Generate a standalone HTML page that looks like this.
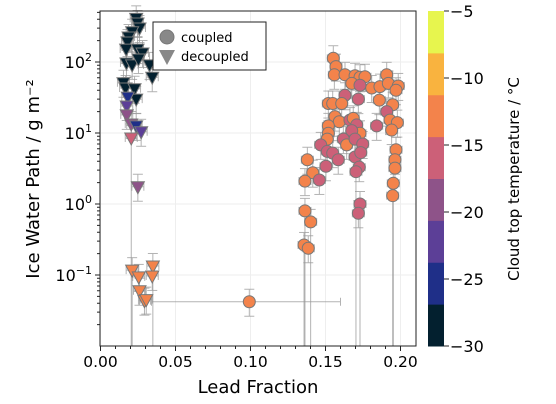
<!DOCTYPE html>
<html><head><meta charset="utf-8"><style>
body{margin:0;background:#fff}
svg{display:block;font-family:"DejaVu Sans","Liberation Sans",sans-serif}
</style></head><body>
<svg id="chart" width="556" height="404" viewBox="0 0 556 404">
<g id="grid"></g>
<g id="errs"></g>
<g id="marks"></g>
<rect x="100" y="11" width="316" height="335" fill="none" stroke="#222" stroke-width="1"/>
<g id="axes"></g>
<g>
<rect x="153" y="22" width="113" height="48" fill="#fff" stroke="#222" stroke-width="1"/>
<circle cx="167" cy="37" r="7" fill="#888" stroke="#777"/>
<text x="181" y="42" font-size="13">coupled</text>
<path d="M159,50 L175,50 L167,65 Z" fill="#888"/>
<text x="181" y="61" font-size="13">decoupled</text>
</g>
<text x="258" y="393" font-size="18" text-anchor="middle">Lead Fraction</text>
<text transform="translate(39,179) rotate(-90)" font-size="18" text-anchor="middle">Ice Water Path / g m⁻²</text>
<g id="cbar"></g>
<text transform="translate(519,179) rotate(-90)" font-size="15" text-anchor="middle">Cloud top temperature / °C</text>
</svg>
<script>
// ---- data ----
const decX=[0.0238,0.0247,0.026,0.0211,0.0187,0.018,0.0171,0.0247,0.028,0.0173,0.0211,0.0253,0.0327,0.0345,0.0153,0.0167,0.0227,0.0238,0.0182,0.0175,0.0175,0.0205,0.0238,0.0271,0.0205,0.0249,0.0211,0.0255,0.0349,0.0345,0.026,0.0293,0.0305];
const decY=[412,354,301,267,225,191,152,152,134,97,91,110,91,61,51,43,42,30,32,24,18,13.4,12.6,10.4,8.5,1.75,0.117,0.094,0.134,0.097,0.060,0.0435,0.045];
const decT=[-29,-29,-29,-29,-29,-29,-29,-29,-29,-29,-29,-29,-29,-29,-29,-29,-29,-29,-26,-21,-20,-18,-26,-23,-16,-20,-12,-12,-12,-12,-12,-12,-12];
const decLow=[0,0,0,0,0,0,0,0,0,0,0,0,0,0,0,0,0,0,0,0,0,0,0,0,1,0,1,0,1,0,0,0,0];
const cupX=[0.1552,0.157,0.1559,0.163,0.1697,0.173,0.1763,0.1908,0.1675,0.173,0.1808,0.1863,0.1919,0.1985,0.197,0.163,0.1719,0.1859,0.1519,0.1548,0.1608,0.1948,0.1908,0.1563,0.1592,0.1663,0.1685,0.1708,0.173,0.1675,0.193,0.1979,0.1941,0.1841,0.1519,0.1519,0.1512,0.1619,0.1468,0.1641,0.1697,0.1748,0.1512,0.1548,0.1585,0.1697,0.1735,0.1503,0.1725,0.1703,0.1379,0.1415,0.1459,0.1363,0.197,0.1963,0.1963,0.1952,0.1948,0.173,0.1719,0.1363,0.1401,0.1357,0.1385,0.0992];
const cupY=[113,86,66,66,64,61,62,66,50,47,43,45,50,46,40,34,30,29,26,26,26,25,20,17,14.4,15.2,16.1,13,9.9,10.8,15.2,14,11,12.6,12.6,9.9,8.2,8.2,6.8,6.8,8.2,7.0,5.5,5.2,4.2,4.6,5.3,3.4,3.3,2.85,4.2,2.76,2.18,2.1,5.8,4.2,3.2,1.96,1.31,1.0,0.74,0.80,0.56,0.265,0.238,0.042];
const cupT=[-12,-12,-12,-12,-12,-12,-12,-12,-12,-16,-12,-12,-12,-12,-12,-16,-16,-12,-12,-12,-12,-12,-16,-12,-12,-16,-12,-16,-12,-16,-12,-12,-12,-16,-12,-12,-12,-16,-16,-12,-16,-16,-16,-16,-16,-16,-16,-16,-16,-16,-12,-12,-16,-12,-12,-12,-12,-12,-12,-16,-16,-12,-12,-12,-12,-12];
const cupLow=[0,0,0,0,0,0,0,0,0,0,0,0,0,0,0,0,0,0,0,0,0,0,0,0,0,0,0,0,0,0,0,0,0,0,0,0,0,0,0,0,0,0,0,0,0,0,0,0,0,1,0,0,0,0,0,0,0,1,1,1,0,1,1,1,0,0];
const xTicks=[0,0.05,0.10,0.15,0.20];
const xTickLabels=["0.00","0.05","0.10","0.15","0.20"];
const yTickExp=[-1,0,1,2];
const cTicks=[-30,-25,-20,-15,-10,-5];
const cBands=["#03202f","#1f2f88","#5c3f97","#8e5389","#cc6078","#f3834b","#f9b33f","#e7f54e"];
// ---- scales ----
const X0=100.5,XS=1500,Y0=204,YS=71,TOP=11,BOT=346;
const sx=v=>X0+v*XS;
const sy=v=>Y0-Math.log10(v)*YS;
const cmin=-30,cmax=-5;
const col=t=>cBands[Math.max(0,Math.min(7,Math.floor((t-cmin)/(cmax-cmin)*8)))];
const NS="http://www.w3.org/2000/svg";
function mk(tag,attrs,parent){const e=document.createElementNS(NS,tag);for(const k in attrs)e.setAttribute(k,attrs[k]);parent.appendChild(e);return e;}
const grid=document.getElementById('grid'),axes=document.getElementById('axes'),errs=document.getElementById('errs'),marks=document.getElementById('marks'),cbar=document.getElementById('cbar');
// grid + x ticks
xTicks.forEach((t,i)=>{
 const g=mk('line',{x1:sx(t),x2:sx(t),y1:TOP,y2:BOT,stroke:'#eee','stroke-width':1},grid);
 
 
 const l=mk('line',{x1:sx(t),x2:sx(t),y1:BOT,y2:BOT+5,stroke:'#222'},axes);
 
 
 const tx=mk('text',{x:sx(t),y:BOT+21,'font-size':15.5,'text-anchor':'middle'},axes);
 tx.textContent=xTickLabels[i];
 
 
});
for(let v=0.01;v<0.21;v+=0.01){
 const m=mk('line',{x1:sx(v),x2:sx(v),y1:BOT,y2:BOT+3,stroke:'#222'},axes);
 
 
}
yTickExp.forEach(e=>{
 const y=sy(Math.pow(10,e));
 const g=mk('line',{x1:100,x2:416,y1:y,y2:y,stroke:'#eee'},grid);
 
 
 const l=mk('line',{x1:95,x2:100,y1:y,y2:y,stroke:'#222'},axes);
 
 
 const tx=mk('text',{x:e<0?92:92,y:y+6,'font-size':16,'text-anchor':'end'},axes);
 tx.innerHTML='10<tspan dy="-7" font-size="11">'+(e<0?'−'+(-e):e)+'</tspan>';
 
 
});
for(let e=-2;e<=2;e++)for(let k=2;k<=9;k++){const y=sy(k*Math.pow(10,e));if(y<TOP||y>BOT)continue;
 const m=mk('line',{x1:97,x2:100,y1:y,y2:y,stroke:'#222'},axes);
 
 }
// colorbar
const CX=428,CW=16;
cBands.forEach((c,i)=>{
 const y1=BOT-(i+1)*(BOT-TOP)/8;
 const r=mk('rect',{x:CX,y:y1,width:CW,height:(BOT-TOP)/8+0.5,fill:c},cbar);
 
 
});
cTicks.forEach(t=>{
 const y=BOT-(t-cmin)/(cmax-cmin)*(BOT-TOP);
 const l=mk('line',{x1:CX+CW,x2:CX+CW+5,y1:y,y2:y,stroke:'#222'},cbar);
 
 
 const tx=mk('text',{x:CX+CW+6,y:y+6,'font-size':16},cbar);
 tx.textContent='−'+(-t);
 
 
});
// error bars + markers
function errbar(x,y,low,wide){
 const px=sx(x),py=sy(y);
 const xl=sx(wide?0.034:x-0.004),xr=sx(wide?0.16:x+0.004);
 const yt=sy(y*1.5),yb=low?BOT:sy(y/1.6);
 const g=mk('g',{stroke:'#999','stroke-width':1,opacity:0.75},errs);
 
 
 mk('line',{x1:xl,x2:xr,y1:py,y2:py},g);
 mk('line',{x1:xl,x2:xl,y1:py-4,y2:py+4},g);
 mk('line',{x1:xr,x2:xr,y1:py-4,y2:py+4},g);
 mk('line',{x1:px,x2:px,y1:yt,y2:yb},g);
 mk('line',{x1:px-5,x2:px+5,y1:yt,y2:yt},g);
 if(!low)mk('line',{x1:px-5,x2:px+5,y1:yb,y2:yb},g);
}
cupX.forEach((x,i)=>errbar(x,cupY[i],cupLow[i],i===cupX.length-1));
decX.forEach((x,i)=>errbar(x,decY[i],decLow[i],false));
cupX.forEach((x,i)=>{
 const c=mk('circle',{cx:sx(x),cy:sy(cupY[i]),r:6,fill:col(cupT[i]),stroke:'#777','stroke-width':1},marks);
 
 
});
decX.forEach((x,i)=>{
 const px=sx(x),py=sy(decY[i]);
 const p=mk('path',{d:`M${px-6.5},${py-5} L${px+6.5},${py-5} L${px},${py+7} Z`,fill:col(decT[i]),stroke:'#777','stroke-width':1},marks);
 
 
});
</script>
</body></html>
